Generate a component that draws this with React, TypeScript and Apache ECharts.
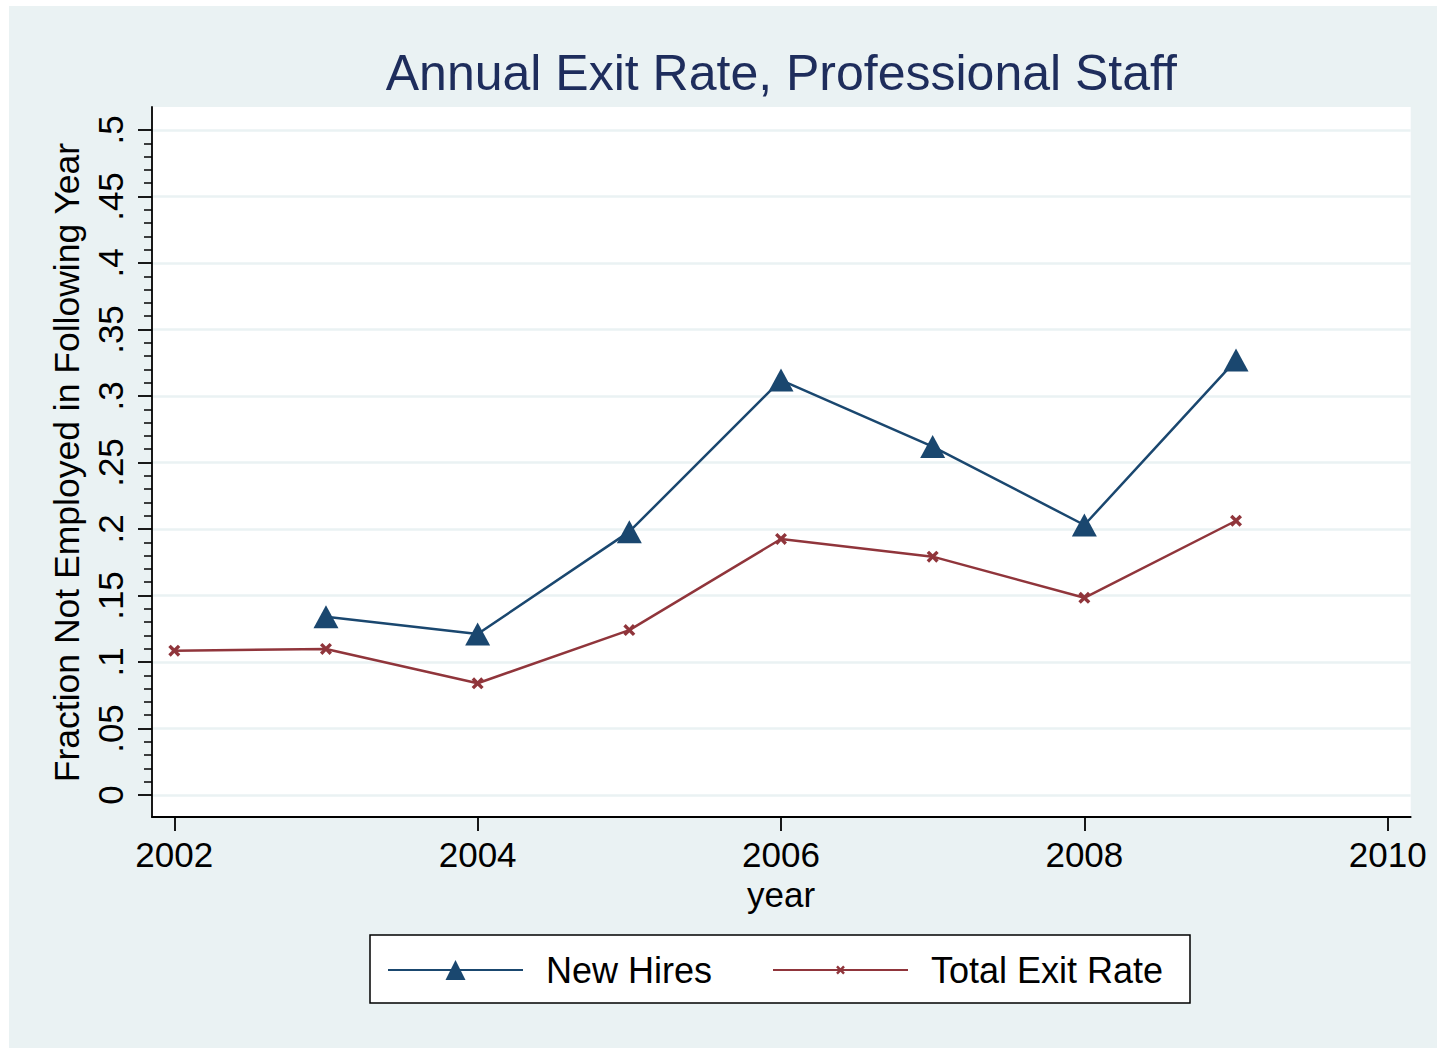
import React, { useEffect, useRef } from "react";
import * as echarts from "echarts";

// ---- data ----
const years = [2002, 2003, 2004, 2005, 2006, 2007, 2008, 2009];
const newHires: (number | null)[] = [null, 0.134, 0.121, 0.198, 0.312, 0.262, 0.203, 0.327];
const totalExit: number[] = [0.1085, 0.1098, 0.084, 0.124, 0.1925, 0.1792, 0.1483, 0.2062];
const seriesNames = ["New Hires", "Total Exit Rate"];
const xTickMin = 2002;
const xTickMax = 2010;
const xTickStep = 2;
const yTickMin = 0;
const yTickMax = 0.5;
const yTickStep = 0.05;
const titleText = "Annual Exit Rate, Professional Staff";
const xName = "year";
const yName = "Fraction Not Employed in Following Year";

// ---- layout (container coordinates) ----
const W = 1428;
const H = 1042;
const plotLeft = 143;
const plotTop = 101;
const plotWidth = 1258.7;
const plotHeight = 710;
const yTopPx = 124; // pixel of yTickMax
const yZeroPx = 789; // pixel of yTickMin
const xFirstPx = 165.3; // pixel of xTickMin
const xLastPx = 1378.7; // pixel of xTickMax
const pxPerYear = (xLastPx - xFirstPx) / (xTickMax - xTickMin);
const xMinVal = xTickMin - (xFirstPx - plotLeft) / pxPerYear;
const xMaxVal = xTickMax + (plotLeft + plotWidth - xLastPx) / pxPerYear;

const FONT = "'Liberation Sans', Arial, Helvetica, sans-serif";
const NAVY = "#1A476F";
const MAROON = "#90353B";
const BG = "#EAF2F3";
const XMARK = "path://M0,2 L2,0 L5,3 L8,0 L10,2 L7,5 L10,8 L8,10 L5,7 L2,10 L0,8 L3,5 Z";

function fmtY(v: number): string {
  if (Math.abs(v) < 1e-9) return "0";
  return String(+v.toFixed(2)).replace(/^0/, "");
}

export default function App() {
  const ref = useRef<HTMLDivElement>(null);
  useEffect(() => {
    if (!ref.current) return;
    const chart = echarts.init(ref.current, null, { renderer: "svg" });
    const nhData = years
      .map((y, i) => [y, newHires[i]])
      .filter((d) => d[1] !== null);
    const teData = years.map((y, i) => [y, totalExit[i]]);
    const option: any = {
      animation: false,
      backgroundColor: BG,
      textStyle: { fontFamily: FONT },
      title: {
        text: titleText,
        left: plotLeft + plotWidth / 2,
        top: 42,
        padding: 0,
        textAlign: "center",
        textStyle: { fontFamily: FONT, fontSize: 50, fontWeight: "normal", color: "#1E2D5C" },
      },
      graphic: [
        {
          type: "rect",
          shape: { x: 361, y: 929, width: 820, height: 68 },
          style: { fill: "#fff", stroke: "#000", lineWidth: 1.5 },
          z: 0,
        },
      ],
      legend: [
        {
          data: [seriesNames[0]],
          left: 378,
          top: 946,
          padding: 0,
          itemWidth: 135,
          itemHeight: 25,
          selectedMode: false,
          textStyle: { fontFamily: FONT, fontSize: 36, color: "#000", padding: [0, 0, 0, 18] },
        },
        {
          data: [seriesNames[1]],
          left: 763,
          top: 946,
          padding: 0,
          itemWidth: 135,
          itemHeight: 11,
          selectedMode: false,
          textStyle: { fontFamily: FONT, fontSize: 36, color: "#000", padding: [0, 0, 0, 18] },
        },
      ],
      grid: [
        {
          left: plotLeft,
          top: plotTop,
          width: plotWidth,
          height: plotHeight,
          show: true,
          backgroundColor: "#fff",
          borderWidth: 0,
        },
        {
          left: plotLeft,
          top: yTopPx,
          width: plotWidth,
          height: yZeroPx - yTopPx,
        },
        {
          left: xFirstPx,
          top: plotTop,
          width: xLastPx - xFirstPx,
          height: plotHeight,
        },
      ],
      xAxis: [
        {
          gridIndex: 0,
          type: "value",
          min: 0,
          max: 1,
          axisLine: { show: true, onZero: false, lineStyle: { color: "#000", width: 1.8 } },
          axisTick: { show: false },
          axisLabel: { show: false },
          splitLine: { show: false },
        },
        {
          gridIndex: 1,
          type: "value",
          min: xMinVal,
          max: xMaxVal,
          show: false,
          splitLine: { show: false },
        },
        {
          gridIndex: 2,
          type: "value",
          min: xTickMin,
          max: xTickMax,
          interval: xTickStep,
          axisLine: { show: false, onZero: false },
          axisTick: { show: true, length: 14, lineStyle: { color: "#000", width: 1.8 } },
          axisLabel: {
            show: true,
            margin: 20,
            fontSize: 35,
            color: "#000",
            fontFamily: FONT,
            formatter: (v: number) => String(Math.round(v)),
          },
          splitLine: { show: false },
          name: xName,
          nameLocation: "middle",
          nameGap: 56,
          nameTextStyle: { fontSize: 35, color: "#000", fontFamily: FONT },
        },
      ],
      yAxis: [
        {
          gridIndex: 0,
          type: "value",
          min: 0,
          max: 1,
          axisLine: { show: true, onZero: false, lineStyle: { color: "#000", width: 1.8 } },
          axisTick: { show: false },
          axisLabel: { show: false },
          splitLine: { show: false },
        },
        {
          gridIndex: 1,
          type: "value",
          min: yTickMin,
          max: yTickMax,
          interval: yTickStep,
          axisLine: { show: false, onZero: false },
          axisTick: { show: true, length: 14, lineStyle: { color: "#000", width: 1.8 } },
          minorTick: { show: true, splitNumber: 5, length: 8, lineStyle: { color: "#000", width: 1.5 } },
          axisLabel: {
            show: true,
            rotate: 90,
            margin: 24,
            fontSize: 35,
            color: "#000",
            fontFamily: FONT,
            formatter: (v: number) => fmtY(v),
          },
          splitLine: { show: true, lineStyle: { color: BG, width: 2.5 } },
          name: yName,
          nameLocation: "middle",
          nameGap: 65,
          nameTextStyle: { fontSize: 35.5, color: "#000", fontFamily: FONT },
        },
        {
          gridIndex: 2,
          type: "value",
          show: false,
          splitLine: { show: false },
        },
      ],
      series: [
        {
          name: seriesNames[0],
          type: "line",
          xAxisIndex: 1,
          yAxisIndex: 1,
          data: nhData,
          symbol: "triangle",
          symbolSize: [25, 23],
          showAllSymbol: true,
          lineStyle: { color: NAVY, width: 2.5 },
          itemStyle: { color: NAVY },
          z: 3,
        },
        {
          name: seriesNames[1],
          type: "line",
          xAxisIndex: 1,
          yAxisIndex: 1,
          data: teData,
          symbol: XMARK,
          symbolSize: 12,
          showAllSymbol: true,
          lineStyle: { color: MAROON, width: 2.5 },
          itemStyle: { color: MAROON },
          z: 2,
        },
      ],
    };
    chart.setOption(option);
    return () => chart.dispose();
  }, []);
  return (
    <div
      ref={ref}
      style={{ position: "absolute", left: 9, top: 6, width: W, height: H }}
    />
  );
}
